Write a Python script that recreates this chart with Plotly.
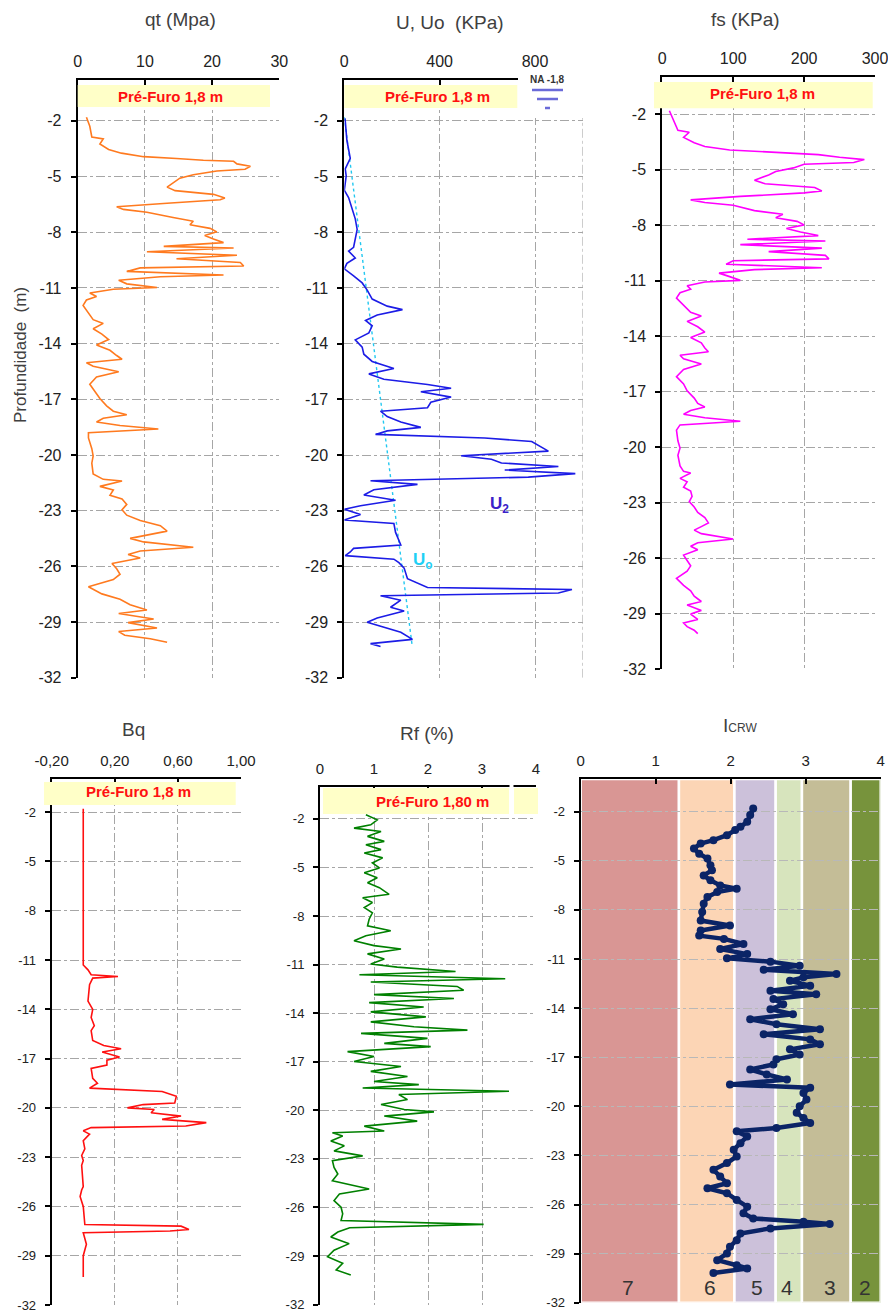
import plotly.graph_objects as go

# ---------------- DATA ----------------
qt_depth = [-1.81, -2.29, -2.87, -2.97, -3.25, -3.54, -3.74, -3.93, -4.03, -4.12,
            -4.18, -4.32, -4.45, -4.61, -4.70, -4.90, -5.09, -5.28, -5.57, -5.76,
            -5.96, -6.15, -6.25, -6.44, -6.63, -6.77, -6.92, -7.21, -7.41, -7.60,
            -7.79, -7.98, -8.18, -8.37, -8.56, -8.76, -8.85, -9.05, -9.24, -9.43,
            -9.63, -9.82, -9.92, -10.11, -10.30, -10.40, -10.59, -10.78, -10.98, -11.07,
            -11.27, -11.46, -11.65, -11.94, -12.33, -12.71, -12.91, -13.20, -13.49, -13.78,
            -14.07, -14.36, -14.64, -14.84, -15.03, -15.22, -15.51, -15.80, -16.19, -16.58,
            -16.96, -17.35, -17.64, -17.83, -18.02, -18.22, -18.41, -18.60, -18.80, -19.08,
            -19.66, -20.05, -20.44, -21.02, -21.31, -21.40, -21.69, -21.88, -22.17, -22.37,
            -22.66, -22.95, -23.24, -23.53, -23.81, -24.10, -24.30, -24.49, -24.68, -24.97,
            -25.17, -25.36, -25.55, -25.84, -26.13, -26.42, -26.71, -27.10, -27.48, -27.77,
            -28.06, -28.35, -28.54, -28.83, -29.03, -29.32, -29.51, -29.71, -29.90, -30.09]
qt_mpa = [1.3, 1.8, 2.1, 3.8, 3.3, 4.6, 6.5, 9.8, 14.7, 18.7,
          23.2, 23.7, 25.7, 24.9, 20.7, 17.2, 15.2, 14.5, 13.3, 14.5,
          20.2, 21.9, 21.2, 13.3, 5.8, 6.8, 10.3, 14.2, 17.2, 16.7,
          19.7, 20.7, 18.9, 20.2, 21.7, 12.8, 23.2, 10.3, 23.7, 14.7,
          24.2, 24.7, 9.3, 7.3, 21.7, 12.3, 6.1, 7.3, 11.8, 5.3,
          1.8, 2.8, 1.3, 0.8, 1.6, 2.3, 3.8, 2.3, 3.6, 4.6,
          2.8, 4.8, 5.8, 6.6, 1.3, 2.3, 6.1, 2.8, 1.8, 2.6,
          3.3, 4.3, 5.3, 7.3, 3.8, 2.8, 6.3, 12.0, 1.6, 1.6,
          2.1, 2.3, 2.1, 2.3, 3.8, 6.6, 3.3, 5.3, 4.8, 6.6,
          7.3, 6.6, 7.3, 9.3, 12.3, 13.3, 10.3, 7.8, 9.8, 17.2,
          9.3, 7.5, 9.3, 5.1, 5.8, 6.3, 5.3, 1.6, 3.6, 6.3,
          7.8, 10.3, 6.1, 11.3, 7.5, 11.8, 6.1, 7.0, 10.8, 13.3]
fs_kpa = [10, 15, 22, 38, 30, 45, 60, 95, 140, 180,
          220, 250, 285, 270, 200, 185, 160, 150, 130, 145,
          215, 225, 200, 110, 40, 60, 100, 130, 170, 160,
          190, 200, 175, 195, 220, 120, 230, 110, 225, 150,
          230, 235, 100, 90, 225, 130, 80, 95, 110, 60,
          35, 40, 25, 20, 30, 40, 55, 35, 50, 60,
          40, 55, 60, 65, 25, 30, 55, 30, 20, 30,
          35, 45, 50, 60, 40, 30, 60, 110, 25, 20,
          22, 25, 22, 25, 30, 40, 25, 35, 30, 40,
          42, 38, 45, 50, 60, 65, 55, 45, 55, 100,
          50, 40, 50, 30, 35, 40, 35, 20, 30, 40,
          45, 55, 35, 55, 40, 50, 30, 35, 45, 50]

u2_depth = [-1.87, -3.06, -4.02, -4.59, -4.97, -5.74, -6.13, -6.70, -7.28, -7.85,
            -8.81, -9.01, -9.39, -9.68, -9.97, -10.35, -10.73, -11.12, -11.60, -11.98,
            -12.17, -12.46, -12.75, -13.04, -13.42, -13.80, -14.19, -14.57, -14.96, -15.34,
            -15.63, -15.92, -16.20, -16.40, -16.59, -16.88, -17.16, -17.45, -17.64, -17.93,
            -18.22, -18.51, -18.70, -18.89, -19.08, -19.27, -19.56, -19.79, -20.04, -20.23,
            -20.43, -20.62, -20.81, -21.00, -21.19, -21.29, -21.39, -21.58, -21.87, -22.15,
            -22.44, -22.73, -22.92, -23.21, -23.50, -23.69, -24.17, -24.85, -25.03, -25.22,
            -25.42, -25.61, -25.80, -26.09, -26.66, -27.14, -27.24, -27.43, -27.58, -27.82,
            -28.20, -28.40, -28.78, -29.01, -29.26, -29.55, -29.93, -30.16, -30.31]
u2_kpa = [3, 11, 25, 4, 8, 0, 18, 32, 46, 54,
          39, 18, 46, 11, 0, 39, 75, 96, 117, 180,
          244, 138, 89, 117, 103, 46, 75, 82, 117, 208,
          103, 166, 349, 448, 321, 448, 363, 349, 152, 180,
          237, 321, 180, 131, 589, 786, 828, 856, 490, 617,
          659, 898, 673, 969, 772, 406, 110, 307, 124, 82,
          215, 68, 0, 68, 0, 208, 215, 237, 39, 25,
          4, 208, 229, 251, 265, 349, 955, 898, 152, 237,
          194, 251, 138, 96, 166, 237, 286, 110, 152]
u0_depth = [-1.8, -30.2]
u0_kpa = [0, 284]

bq_depth = [-1.8, -11.3, -11.6, -11.9, -12.0, -12.1, -12.5, -13.5, -14.0, -14.5,
            -15.0, -15.3, -15.9, -16.2, -16.4, -16.6, -16.9, -17.1, -17.4, -17.6,
            -18.2, -18.5, -18.8, -19.0, -19.3, -19.7, -19.8, -20.0, -20.1, -20.3,
            -20.5, -20.7, -20.9, -21.1, -21.2, -21.4, -21.6, -22.0, -22.5, -22.9,
            -23.2, -23.5, -24.8, -25.0, -25.4, -26.0, -27.1, -27.2, -27.4, -27.5,
            -27.6, -28.3, -29.0, -30.3]
bq_val = [0.0, 0.0, 0.03, 0.05, 0.22, 0.06, 0.04, 0.03, 0.06, 0.05,
          0.07, 0.05, 0.06, 0.13, 0.24, 0.12, 0.23, 0.15, 0.15, 0.05,
          0.06, 0.09, 0.04, 0.50, 0.59, 0.58, 0.38, 0.28, 0.45, 0.43,
          0.62, 0.50, 0.78, 0.65, 0.05, 0.0, 0.04, 0.0, 0.01, -0.01,
          0.0, -0.01, 0.0, -0.01, -0.02, 0.0, 0.01, 0.62, 0.67, 0.55,
          0.0, 0.02, 0.0, 0.0]

rf_depth = [-1.75, -2.06, -2.37, -2.57, -2.78, -3.08, -3.39, -3.60, -3.90, -4.11,
            -4.41, -4.72, -5.03, -5.33, -5.64, -5.95, -6.25, -6.66, -6.87, -7.17,
            -7.48, -7.80, -8.20, -8.61, -8.91, -9.22, -9.53, -9.83, -10.04, -10.34,
            -10.65, -10.96, -11.16, -11.43, -11.63, -11.88, -12.08, -12.35, -12.59, -12.86,
            -13.10, -13.35, -13.62, -13.92, -14.23, -14.54, -14.84, -15.05, -15.25, -15.56,
            -15.87, -16.07, -16.38, -16.68, -16.99, -17.30, -17.60, -17.91, -18.22, -18.42,
            -18.63, -18.83, -19.03, -19.34, -19.65, -19.95, -20.10, -20.36, -20.67, -20.98,
            -21.28, -21.39, -21.59, -21.90, -22.20, -22.51, -22.82, -23.12, -23.53, -23.94,
            -24.35, -24.86, -25.17, -25.58, -25.99, -26.40, -26.81, -27.05, -27.26, -27.52,
            -27.83, -28.24, -28.65, -29.05, -29.46, -29.87, -30.18]
rf_pct = [0.85, 1.06, 0.94, 0.63, 1.13, 0.88, 1.19, 0.85, 1.13, 0.82,
          1.16, 0.97, 1.10, 0.82, 1.06, 0.88, 1.10, 1.28, 0.79, 0.97,
          0.82, 0.97, 0.91, 0.88, 1.31, 0.85, 0.63, 1.00, 1.50, 0.88,
          1.19, 0.94, 1.43, 2.51, 0.73, 3.43, 0.94, 2.54, 2.66, 1.00,
          2.48, 0.91, 1.92, 0.94, 1.96, 0.94, 1.74, 2.73, 0.76, 1.99,
          1.19, 2.05, 0.51, 1.00, 0.63, 1.50, 0.94, 1.62, 1.00, 1.83,
          0.79, 3.50, 1.46, 1.62, 1.13, 1.56, 2.11, 1.19, 1.80, 0.82,
          1.19, 0.23, 0.42, 0.20, 0.45, 0.26, 0.79, 0.23, 0.26, 0.33,
          0.23, 0.91, 0.36, 0.26, 0.39, 0.42, 0.39, 3.03, 0.55, 0.33,
          0.20, 0.54, 0.26, 0.14, 0.42, 0.30, 0.57]

ic_depth = [-1.80, -2.20, -2.61, -2.92, -3.12, -3.43, -3.74, -3.94, -4.25, -4.56,
            -4.86, -5.27, -5.58, -5.89, -6.19, -6.50, -6.70, -6.91, -7.21, -7.62,
            -8.13, -8.65, -8.95, -9.26, -9.57, -9.77, -10.08, -10.39, -10.70, -10.96,
            -11.16, -11.41, -11.65, -11.92, -12.12, -12.33, -12.63, -12.94, -13.15, -13.45,
            -13.76, -14.07, -14.37, -14.68, -14.99, -15.29, -15.60, -15.91, -16.21, -16.52,
            -16.83, -17.13, -17.44, -17.75, -18.05, -18.36, -18.67, -18.87, -19.18, -19.59,
            -20.00, -20.40, -20.71, -21.02, -21.32, -21.53, -21.84, -22.25, -22.65, -23.06,
            -23.47, -23.88, -24.29, -24.70, -25.01, -25.31, -25.72, -26.13, -26.54, -26.85,
            -27.05, -27.19, -27.46, -27.77, -28.18, -28.58, -28.99, -29.40, -29.71, -29.91,
            -30.18]
ic_val = [2.30, 2.26, 2.22, 2.13, 2.06, 1.95, 1.77, 1.60, 1.51, 1.58,
          1.69, 1.73, 1.75, 1.64, 1.73, 1.86, 2.08, 1.82, 1.69, 1.64,
          1.62, 1.60, 1.99, 1.60, 1.58, 1.91, 2.17, 1.86, 2.22, 1.95,
          2.53, 2.92, 2.44, 3.41, 2.97, 2.79, 3.06, 2.53, 3.14, 2.57,
          2.70, 2.53, 2.83, 2.26, 2.61, 3.19, 2.44, 3.06, 3.19, 2.79,
          2.92, 2.61, 2.57, 2.26, 2.48, 2.75, 1.99, 3.06, 2.97, 3.01,
          2.92, 2.88, 2.97, 3.06, 2.61, 2.08, 2.22, 2.13, 2.04, 2.08,
          1.95, 1.77, 1.86, 1.95, 1.69, 1.95, 2.08, 2.22, 2.17, 2.30,
          2.97, 3.32, 2.53, 2.13, 2.08, 1.99, 1.95, 1.82, 2.08, 2.22,
          1.77]

zone_bounds = [0.0, 1.31, 2.05, 2.60, 2.95, 3.60, 4.0]
zone_labels = ["7", "6", "5", "4", "3", "2"]
zone_colors = ["#D99694", "#FCD5B5", "#CCC1DA", "#D7E4BD", "#C4BD97", "#77933C"]
zone_label_x = [0.63, 1.72, 2.35, 2.75, 3.32, 3.79]

depth_ticks = [-2, -5, -8, -11, -14, -17, -20, -23, -26, -29, -32]
depth_ticktext = ["-2", "-5", "-8", "-11", "-14", "-17", "-20", "-23", "-26", "-29", "-32"]

# ---------------- LAYOUT ----------------
W, H = 888, 1313
def PX(v): return v / W
def PY(v): return 1 - v / H

FONT = "Liberation Sans, Arial, sans-serif"
GRID = "#A6A6A6"

def xax(dom, rng, tv, tt, anchor, grid=True, fs=15):
    return dict(domain=dom, range=rng, side="top", anchor=anchor, tickmode="array",
                tickvals=tv, ticktext=tt, showline=True, linecolor="black", linewidth=2,
                ticks="inside", ticklen=5, tickcolor="black", tickwidth=1.5,
                ticklabelstandoff=5, automargin=False, ticklabeloverflow="allow",
                showgrid=grid, gridcolor=GRID, griddash="dashdot", gridwidth=1,
                zeroline=False, fixedrange=True,
                tickfont=dict(family=FONT, size=fs, color="#222"))

def yax(dom, rng, anchor, fs=15, gridcolor=GRID):
    return dict(domain=dom, range=rng, anchor=anchor, tickmode="array",
                tickvals=depth_ticks, ticktext=depth_ticktext, showline=True,
                linecolor="black", linewidth=2, ticks="outside", ticklen=5,
                tickcolor="black", tickwidth=1.5, ticklabelstandoff=6, automargin=False,
                ticklabeloverflow="allow",
                showgrid=True, gridcolor=gridcolor, griddash="dashdot", gridwidth=1,
                zeroline=False, fixedrange=True,
                tickfont=dict(family=FONT, size=fs, color="#222"))

fig = go.Figure()

fig.add_trace(go.Scatter(x=qt_mpa, y=qt_depth, mode="lines", line=dict(color="#FF7A1F", width=1.6),
                         xaxis="x", yaxis="y", showlegend=False))
fig.add_trace(go.Scatter(x=u0_kpa, y=u0_depth, mode="lines", line=dict(color="#22C8F0", width=1.4, dash="dot"),
                         xaxis="x2", yaxis="y2", showlegend=False))
fig.add_trace(go.Scatter(x=u2_kpa, y=u2_depth, mode="lines", line=dict(color="#1C1CE6", width=1.6),
                         xaxis="x2", yaxis="y2", showlegend=False))
fig.add_trace(go.Scatter(x=fs_kpa, y=qt_depth, mode="lines", line=dict(color="#FF00FF", width=1.6),
                         xaxis="x3", yaxis="y3", showlegend=False))
fig.add_trace(go.Scatter(x=bq_val, y=bq_depth, mode="lines", line=dict(color="#FF1010", width=1.6),
                         xaxis="x4", yaxis="y4", showlegend=False))
fig.add_trace(go.Scatter(x=rf_pct, y=rf_depth, mode="lines", line=dict(color="#008000", width=1.6),
                         xaxis="x5", yaxis="y5", showlegend=False))
fig.add_trace(go.Scatter(x=ic_val, y=ic_depth, mode="lines+markers",
                         line=dict(color="#0B2466", width=4.5),
                         marker=dict(color="#0B2466", size=8, symbol="circle"),
                         xaxis="x6", yaxis="y6", showlegend=False))

top_y = [PY(677.8), PY(80)]
fs_y = [PY(669), PY(77.3)]
bq_y = [PY(1305), PY(779.3)]
rf_y = [PY(1304.5), PY(786.5)]
ic_y = [PY(1302.7), PY(779)]

layout = dict(
    width=W, height=H, margin=dict(l=0, r=0, t=0, b=0, autoexpand=False),
    paper_bgcolor="white", plot_bgcolor="white", showlegend=False,
    xaxis=xax([PX(77.7), PX(279.3)], [0, 30], [0, 10, 20, 30], ["0", "10", "20", "30"], "y", fs=16),
    yaxis=yax(top_y, [-32, 0.2], "x", fs=16),
    xaxis2=xax([PX(344.3), PX(582.7)], [0, 1000], [0, 400, 800], ["0", "400", "800"], "y2", fs=16),
    yaxis2=yax(top_y, [-32, 0.2], "x2", fs=16),
    xaxis3=xax([PX(662.3), PX(875)], [0, 300], [0, 100, 200, 300], ["0", "100", "200", "300"], "y3", fs=16),
    yaxis3=yax(fs_y, [-32, 0], "x3", fs=16),
    xaxis4=xax([PX(51.7), PX(241)], [-0.2, 1.0], [-0.2, 0.2, 0.6, 1.0], ["-0,20", "0,20", "0,60", "1,00"], "y4", fs=15),
    yaxis4=yax(bq_y, [-32, 0], "x4", fs=13),
    xaxis5=xax([PX(320), PX(536)], [0, 4], [0, 1, 2, 3, 4], ["0", "1", "2", "3", "4"], "y5", fs=15),
    yaxis5=yax(rf_y, [-32, 0], "x5", fs=13),
    xaxis6=xax([PX(580.7), PX(880.7)], [0, 4], [0, 1, 2, 3, 4], ["0", "1", "2", "3", "4"], "y6", grid=False, fs=15),
    yaxis6=yax(ic_y, [-32, 0], "x6", fs=13, gridcolor="#B8B8B8"),
)
fig.update_layout(**layout)

shapes = []
def prect(x0, y0, x1, y1, color, layer="above"):
    shapes.append(dict(type="rect", xref="paper", yref="paper", x0=PX(x0), x1=PX(x1),
                       y0=PY(y1), y1=PY(y0), fillcolor=color, line=dict(width=0), layer=layer))
def pline(x0, y0, x1, y1, color, w):
    shapes.append(dict(type="line", xref="paper", yref="paper", x0=PX(x0), x1=PX(x1),
                       y0=PY(y0), y1=PY(y1), line=dict(color=color, width=w), layer="above"))

# right-edge grid line of the U panel (1000 kPa, unlabeled)
shapes.append(dict(type="line", xref="x2", yref="y2", x0=1000, x1=1000, y0=-32, y1=0.2,
                   line=dict(color=GRID, width=1, dash="dashdot"), layer="below"))

# Soil behaviour zones (Icrw panel)
for i in range(len(zone_colors)):
    shapes.append(dict(type="rect", xref="x6", yref="y6", x0=zone_bounds[i], x1=zone_bounds[i + 1],
                       y0=-32, y1=0, fillcolor=zone_colors[i], line=dict(color="white", width=2.5),
                       layer="below"))

# Pre-furo bands
YEL = "#FFFFC8"
prect(77.7, 85, 270, 107, YEL)
prect(344.3, 85, 517.3, 108, YEL)
prect(654, 82, 872.7, 108.3, YEL)
prect(44, 782, 235.7, 805, YEL)
prect(323, 788, 509, 814, YEL)
prect(514, 788, 538, 814, YEL)

# white cover for NA symbol area and Rf axis break
prect(518, 72, 592, 118, "white")
prect(509.5, 780, 513.5, 816, "white")

# water table symbol
NA_C = "#6A6AD8"
pline(532, 90, 563, 90, NA_C, 2.5)
pline(537, 99, 558, 99, NA_C, 2.5)
pline(545, 108, 550, 108, NA_C, 2.5)

fig.update_layout(shapes=shapes)

ann = []
def ptext(x, y, text, size, color="#404040", bold=False, angle=0, xanchor="center"):
    ann.append(dict(xref="paper", yref="paper", x=PX(x), y=PY(y), text=("<b>%s</b>" % text) if bold else text,
                    showarrow=False, textangle=angle, xanchor=xanchor, yanchor="middle",
                    font=dict(family=FONT, size=size, color=color)))

ptext(180, 20, "qt (Mpa)", 19)
ptext(450, 22, "U, Uo  (KPa)", 19)
ptext(745, 20, "fs (KPa)", 19)
ptext(133, 729, "Bq", 19)
ptext(427, 733, "Rf (%)", 19)
ptext(740, 725, "I<span style='font-size:12px'>CRW</span>", 19)
ptext(20, 355, "Profundidade  (m)", 17, angle=-90)

ptext(170, 96, "Pré-Furo 1,8 m", 15, color="#FF1010", bold=True)
ptext(437, 97, "Pré-Furo 1,8 m", 15, color="#FF1010", bold=True)
ptext(762, 93, "Pré-Furo 1,8 m", 15, color="#FF1010", bold=True)
ptext(138, 791, "Pré-Furo 1,8 m", 15, color="#FF1010", bold=True)
ptext(432, 801, "Pré-Furo 1,80 m", 15, color="#FF1010", bold=True)
ptext(547, 80, "NA -1,8", 10, color="#333333", bold=True)

# curve labels in data coordinates of the U panel
ann.append(dict(xref="x2", yref="y2", x=652, y=-22.7, text="<b>U<sub>2</sub></b>", showarrow=False,
                font=dict(family=FONT, size=17, color="#3A22C8")))
ann.append(dict(xref="x2", yref="y2", x=330, y=-25.7, text="<b>U<sub>o</sub></b>", showarrow=False,
                font=dict(family=FONT, size=17, color="#1FD0F5")))

# zone numbers
for lab, xv in zip(zone_labels, zone_label_x):
    ann.append(dict(xref="x6", yref="y6", x=xv, y=-31.1, text=lab, showarrow=False,
                    font=dict(family=FONT, size=21, color="#333333")))

fig.update_layout(annotations=ann)

fig.write_html("out.html")
